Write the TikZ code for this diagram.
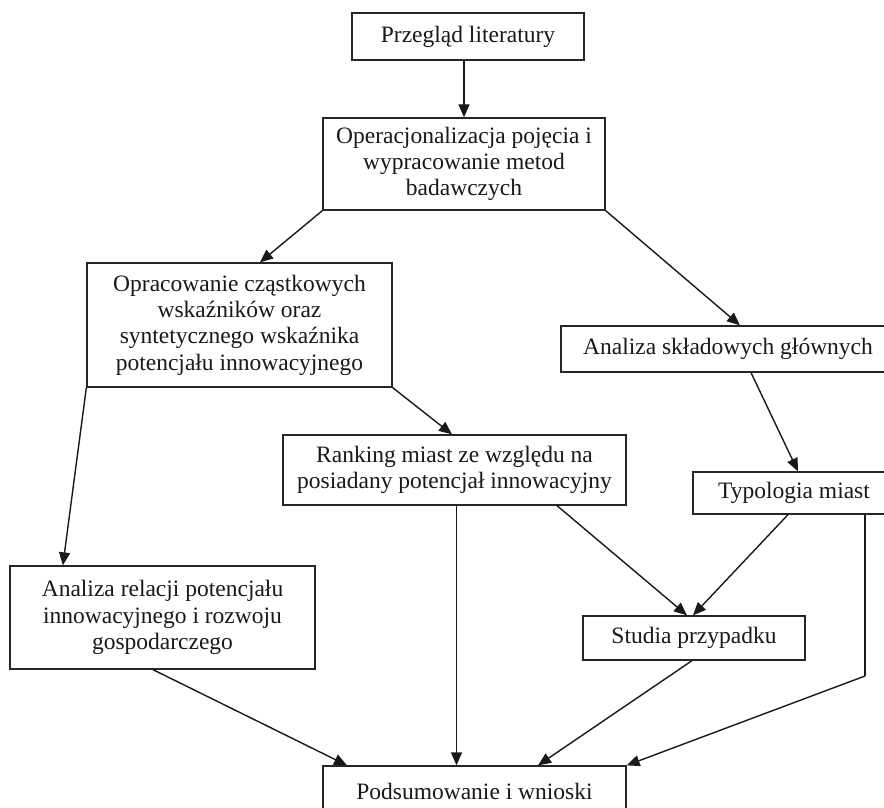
\documentclass[tikz,border=0pt]{standalone}
\usepackage{fontspec}
\setmainfont{Liberation Serif}
\usetikzlibrary{arrows.meta,calc}
\begin{document}
\begin{tikzpicture}[x=1pt,y=-1pt,
  box/.style={draw=black!85,line width=1.3pt,inner sep=0pt,align=center,
    font=\fontsize{23.5}{26.3}\selectfont,text=black!90},
  arr/.style={draw=black!90,line width=1.4pt,-{Triangle[length=13pt,width=11pt]}},
  ln/.style={draw=black!90,line width=1.4pt}]
\useasboundingbox (0,0) rectangle (884,808);
\clip (0,0) rectangle (884,808);
\fill[white] (0,0) rectangle (884,808);
\node[box,minimum width=232pt,minimum height=47pt] (B1) at (468,36.5) {Przegląd literatury};
\node[box,minimum width=282pt,minimum height=92pt] (B2) at (464,164) {Operacjonalizacja pojęcia i\\wypracowanie metod\\badawczych};
\node[box,minimum width=305pt,minimum height=124pt] (B3) at (239.5,325) {Opracowanie cząstkowych\\wskaźników oraz\\syntetycznego wskaźnika\\potencjału innowacyjnego};
\node[box,minimum width=334pt,minimum height=46pt] (B4) at (728,349) {Analiza składowych głównych};
\node[box,minimum width=343pt,minimum height=70pt] (R) at (454.5,470) {Ranking miast ze względu na\\posiadany potencjał innowacyjny};
\node[box,minimum width=202pt,minimum height=42pt] (T) at (794,493) {Typologia miast};
\node[box,minimum width=305pt,minimum height=103pt] (AR) at (162.5,617.5) {Analiza relacji potencjału\\innowacyjnego i rozwoju\\gospodarczego};
\node[box,minimum width=222pt,minimum height=44pt] (S) at (694,638) {Studia przypadku};
\node[box,minimum width=303pt,minimum height=50pt] (P) at (474.5,791) {Podsumowanie i wnioski};
\coordinate (TP) at (865,676);
\draw[arr] (B1.south -| B2.north) -- (B2.north);
\draw[arr] (B2.south west) -- ([xshift=20.5pt]B3.north);
\draw[arr] (B2.south east) -- ([xshift=12pt]B4.north);
\draw[arr] (B3.south west) -- ([xshift=-23.5pt]B3.south west |- AR.north);
\draw[arr] (B3.south east) -- ([xshift=-2.5pt]R.north);
\draw[arr] ([xshift=23pt]B4.south) -- ([xshift=4pt]T.north);
\draw[arr] ([xshift=102.5pt]R.south) -- ([xshift=-7pt]S.north);
\draw[arr] ([xshift=-6pt]T.south) -- ([xshift=-1pt]S.north);
\draw[arr] ([xshift=2pt]R.south) -- ([xshift=2pt]R.south |- P.north);
\draw[arr] ([xshift=-9.5pt]AR.south) -- ([xshift=-127.5pt]P.north);
\draw[arr] ([xshift=-2pt]S.south) -- ([xshift=63.5pt]P.north);
\draw[ln] ([xshift=71pt]T.south) -- (TP);
\draw[arr] (TP) -- (P.north east);
\end{tikzpicture}
\end{document}
